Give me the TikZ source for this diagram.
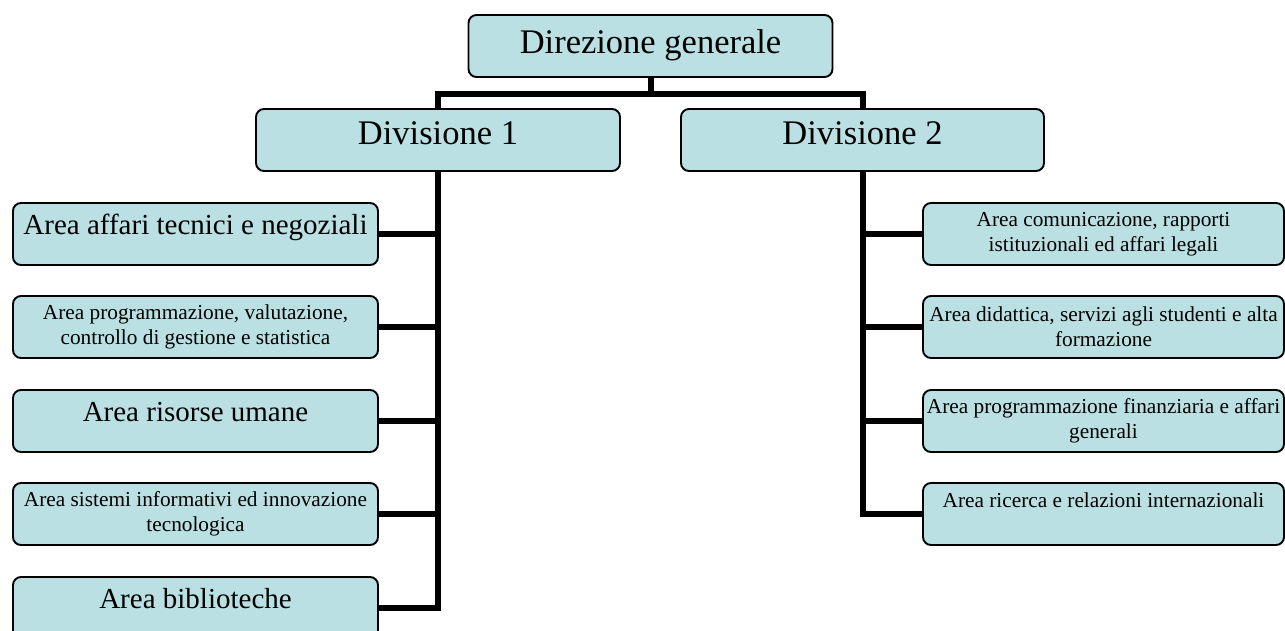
\documentclass[tikz,border=0pt]{standalone}
\usepackage{fontspec}
\setmainfont{Liberation Serif}
\definecolor{boxfill}{HTML}{BAE0E3}
\newcommand\fsHuge{\fontsize{34.5}{40}\selectfont}
\newcommand\fsBig{\fontsize{29}{34}\selectfont}
\newcommand\fsSmall{\fontsize{21.3}{25}\selectfont}
\begin{document}
\begin{tikzpicture}[x=1pt,y=-1pt,
  box/.style={draw=black, line width=1.9pt, rounded corners=8pt, fill=boxfill,
    inner sep=0pt, align=center, minimum height=62pt},
  topbox/.style={box, font=\fsHuge, text height=20pt, text depth=6pt},
  divbox/.style={box, font=\fsHuge, text height=17pt, text depth=8pt},
  leftbox/.style={box, minimum width=365pt},
  rightbox/.style={box, minimum width=361pt},
  bigone/.style={font=\fsBig, text height=10pt, text depth=10pt},
  smallone/.style={font=\fsSmall, text height=5pt, text depth=19pt},
  smalltwo/.style={font=\fsSmall},
  conn/.style={line width=6pt, line join=miter}]
\clip (0,0) rectangle (1285,630);
\fill[white] (0,0) rectangle (1285,630);

\coordinate (bar) at (650.5,94);

\node[topbox, minimum width=364pt] (dg) at (650.5,46) {Direzione generale};
\node[divbox, minimum width=364pt] (d1) at (438,140) {Divisione 1};
\node[divbox, minimum width=363pt] (d2) at (862.5,140) {Divisione 2};

\node[leftbox, bigone] (a1) at (195.5,234) {Area affari tecnici e negoziali};
\node[leftbox, smalltwo] (a2) at (195.5,327) {Area programmazione, valutazione,\\controllo di gestione e statistica};
\node[leftbox, bigone] (a3) at (195.5,421) {Area risorse umane};
\node[leftbox, smalltwo] (a4) at (195.5,514) {Area sistemi informativi ed innovazione\\tecnologica};
\node[leftbox, bigone] (a5) at (195.5,608) {Area biblioteche};

\node[rightbox, smalltwo] (b1) at (1103.5,234) {Area comunicazione, rapporti\\istituzionali ed affari legali};
\node[rightbox, smalltwo] (b2) at (1103.5,327) {Area didattica, servizi agli studenti e alta\\formazione};
\node[rightbox, smalltwo] (b3) at (1103.5,421) {Area programmazione finanziaria e affari\\generali};
\node[rightbox, smallone] (b4) at (1103.5,514) {Area ricerca e relazioni internazionali};

% top level
\draw[conn] (dg.south) -- (bar);
\draw[conn] (d1.north) -- (d1.north |- bar) -- (d2.north |- bar) -- (d2.north);

% division 1 spine
\draw[conn] (d1.south) -- (d1.south |- a5.east) -- (a5.east);
\foreach \n in {a1,a2,a3,a4}{
  \draw[conn] (\n.east) -- (\n.east -| d1.south);
}

% division 2 spine
\draw[conn] (d2.south) -- (d2.south |- b4.west) -- (b4.west);
\foreach \n in {b1,b2,b3}{
  \draw[conn] (\n.west) -- (\n.west -| d2.south);
}
\end{tikzpicture}
\end{document}
